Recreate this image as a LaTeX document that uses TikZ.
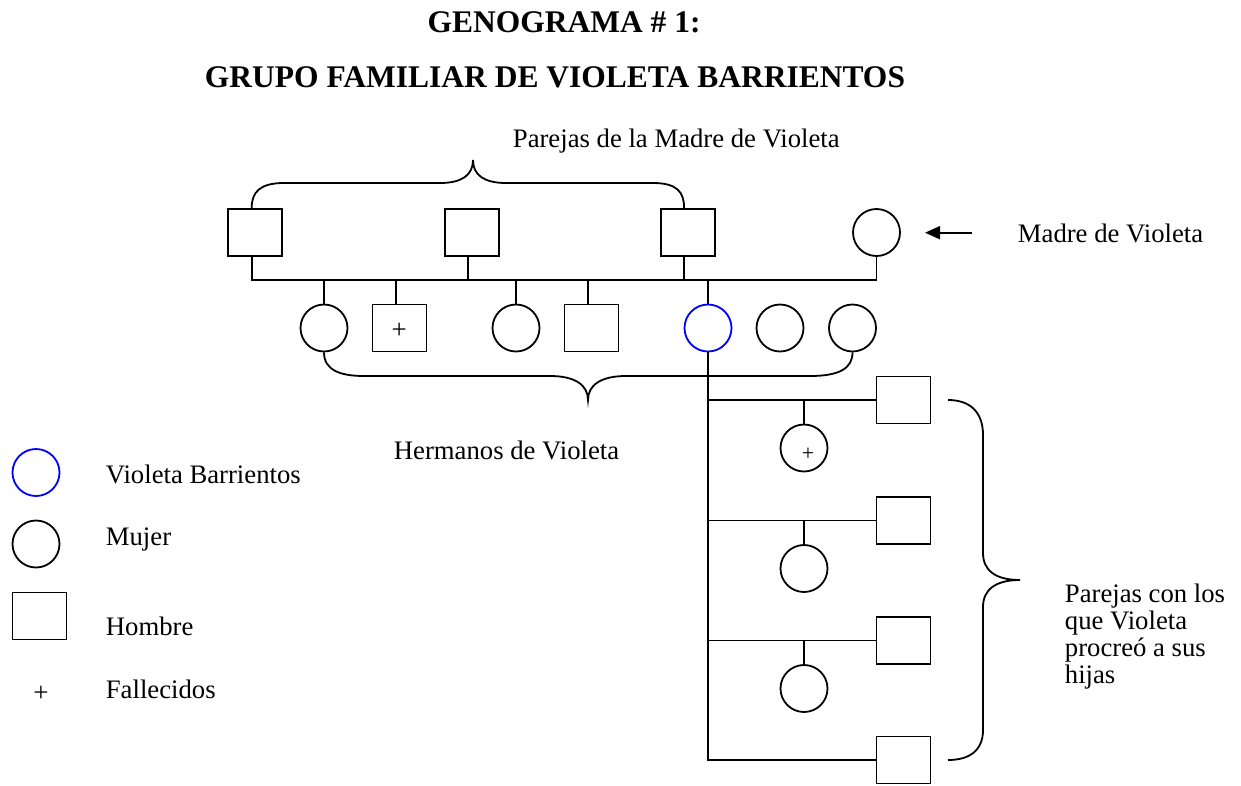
\documentclass[tikz,border=0pt]{standalone}
\usepackage{fontspec}
\setmainfont{Liberation Serif}
\usetikzlibrary{arrows.meta}
\begin{document}
\begin{tikzpicture}[x=1pt,y=-1pt,line width=1.8pt,
  male/.style={draw,rectangle,minimum width=54pt,minimum height=47pt,inner sep=0pt},
  female/.style={draw,circle,minimum size=47pt,inner sep=0pt},
  violeta/.style={female,draw=blue},
  txt/.style={font=\fontsize{26.7}{26.8}\selectfont,inner sep=0pt,anchor=base west},
  ttl/.style={font=\bfseries\fontsize{31.5}{32}\selectfont,inner sep=0pt,anchor=base},
  plus/.style={font=\fontsize{27}{27}\selectfont,inner sep=0pt}]
\useasboundingbox (0,0) rectangle (1241,785);

% titles
\node[ttl] (t1) at (564,32) {GENOGRAMA \# 1:};
\node[ttl] (t2) at (555,87) {GRUPO FAMILIAR DE VIOLETA BARRIENTOS};

% top row
\node[male] (sq1) at (255.2,232.3) {};
\node[male] (sq2) at (471.7,232.3) {};
\node[male] (sq3) at (687.6,232.3) {};
\node[female] (mom) at (876.5,232.5) {};
\node[txt] (lmom) at (1017,242.7) {Madre de Violeta};
\coordinate (arrS) at (972,232.7);
\coordinate (arrE) at (925,232.7);
\draw[line width=2pt,-{Triangle[length=15pt,width=13pt]}] (arrS) -- (arrE);

\node[txt] (lpar) at (512,147) {Parejas de la Madre de Violeta};

% top brace
\draw ([xshift=-3.5pt]sq1.north) .. controls (251.7,192) and (260,183) .. (284,183)
  -- (440,183) .. controls (462,183) and (473,175) .. (473,160)
  .. controls (473,175) and (484,183) .. (506,183)
  -- (653,183) .. controls (677,183) and (684.1,192) .. ([xshift=-3.5pt]sq3.north);

% sibling line
\coordinate (tl) at (0,280);
\draw ([xshift=-3.5pt]sq1.south) -- ([xshift=-3.5pt]sq1.south |- tl) -- (mom.south |- tl) -- (mom.south);
\draw ([xshift=-3.5pt]sq2.south) -- ([xshift=-3.5pt]sq2.south |- tl);
\draw ([xshift=-3.5pt]sq3.south) -- ([xshift=-3.5pt]sq3.south |- tl);

% children
\node[female] (c1) at (324,328) {};
\node[male] (c2) at (399.5,328) {};
\node[plus] (c2p) at (399.3,331) {+};
\node[female] (c3) at (516,328) {};
\node[male] (c4) at (591.5,328) {};
\node[violeta] (vb) at (708,328) {};
\node[female] (c6) at (780,328) {};
\node[female] (c7) at (852.5,328) {};
\draw (c1.north) -- (c1.north |- tl);
\draw ([xshift=-3.5pt]c2.north) -- ([xshift=-3.5pt]c2.north |- tl);
\draw (c3.north) -- (c3.north |- tl);
\draw ([xshift=-3.5pt]c4.north) -- ([xshift=-3.5pt]c4.north |- tl);
\draw (vb.north) -- (vb.north |- tl);

% bottom brace
\draw (c1.south) .. controls (324,370) and (340,376) .. (364,376)
  -- (550,376) .. controls (575,376) and (588,385) .. (588,400)
  .. controls (588,385) and (601,376) .. (626,376)
  -- (810,376) .. controls (840,376) and (852.5,368) .. (c7.south);
\node[txt] (lher) at (393,459) {Hermanos de Violeta};

% Violeta's partners and daughters
\node[male] (p1) at (903.5,400) {};
\node[male] (p2) at (903.5,520.5) {};
\node[male] (p3) at (903.5,640.5) {};
\node[male] (p4) at (903.5,760) {};
\node[female] (d1) at (804,448) {};
\node[font=\fontsize{22}{22}\selectfont,inner sep=0pt] (d1p) at (808,454) {+};
\node[female] (d2) at (804,568.5) {};
\node[female] (d3) at (804,688.5) {};
\draw (vb.south) -- (vb.south |- p4.west) -- (p4.west);
\draw (vb.south |- p1.west) -- (p1.west);
\draw (vb.south |- p2.west) -- (p2.west);
\draw (vb.south |- p3.west) -- (p3.west);
\draw (d1.north) -- (d1.north |- p1.west);
\draw (d2.north) -- (d2.north |- p2.west);
\draw (d3.north) -- (d3.north |- p3.west);

% right brace
\draw (948,400) .. controls (970,400) and (983,412) .. (983,435)
  -- (983,553) .. controls (983,570) and (995,580) .. (1020,580)
  .. controls (995,580) and (983,590) .. (983,607)
  -- (983,730) .. controls (983,750) and (970,760) .. (948,760);
\node[txt] (r1) at (1064,602.7) {Parejas con los};
\node[txt] (r2) at (1064,629.5) {que Violeta};
\node[txt] (r3) at (1064,656.3) {procreó a sus};
\node[txt] (r4) at (1064,683) {hijas};

% legend
\node[violeta] (lg1) at (36,472.5) {};
\node[female] (lg2) at (36,544) {};
\node[male] (lg3) at (39.5,616) {};
\node[plus] (lg4) at (41,694) {+};
\node[txt] (lt1) at (105,483) {Violeta Barrientos};
\node[txt] (lt2) at (105,545) {Mujer};
\node[txt] (lt3) at (105,635) {Hombre};
\node[txt] (lt4) at (105,698) {Fallecidos};
\end{tikzpicture}
\end{document}
